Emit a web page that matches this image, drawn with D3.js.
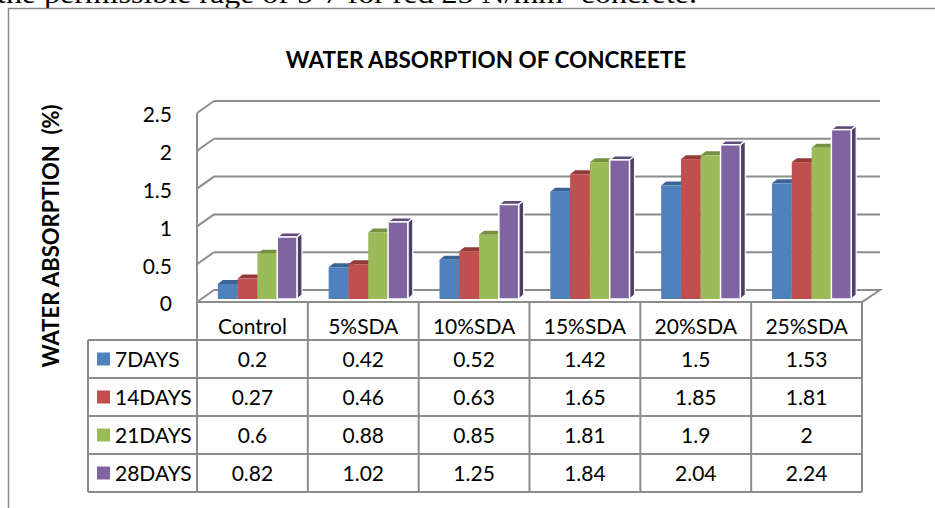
<!DOCTYPE html>
<meta charset="utf-8">
<style type="text/css">
  body { margin: 0; background: #fff; }
  .grid { fill: none; stroke: #8c8c8c; stroke-width: 2; }
  .cell { fill: none; stroke: #8c8c8c; stroke-width: 2; }
  text { font-family: "Lato", "Open Sans", sans-serif; fill: #000; }
</style>
<body>
<div id="chart"></div>
<script src="https://d3js.org/d3.v7.min.js"></script>
<script>

// data
var categories = ["Control", "5%SDA", "10%SDA", "15%SDA", "20%SDA", "25%SDA"];
var series = ["7DAYS", "14DAYS", "21DAYS", "28DAYS"];
var days7  = [0.2, 0.42, 0.52, 1.42, 1.5, 1.53];
var days14 = [0.27, 0.46, 0.63, 1.65, 1.85, 1.81];
var days21 = [0.6, 0.88, 0.85, 1.81, 1.9, 2];
var days28 = [0.82, 1.02, 1.25, 1.84, 2.04, 2.24];
var yTicks = [0, 0.5, 1, 1.5, 2, 2.5];
var tickLabels = ["0", "0.5", "1", "1.5", "2", "2.5"];

var values = [days7, days14, days21, days28];
var front = ["#4f81bd", "#c0504d", "#9bbb59", "#8064a2"];
var topc  = ["#3b6494", "#923b39", "#779140", "#5e4a7c"];
var side  = ["#345987", "#853533", "#6b8339", "#4f3e69"];

var width = 935, height = 508;

var svg = d3.select("#chart").append("svg")
    .attr("width", width)
    .attr("height", height);

// text from the page above, cut off at the top
svg.append("text")
    .attr("x", -3)
    .attr("y", 3)
    .attr("textLength", 700)
    .attr("lengthAdjust", "spacingAndGlyphs")
    .style("font-family", "'Liberation Serif', serif")
    .style("font-size", "27px")
    .text("the permissible rage of 5-7 for red 25 N/mm² concrete.");

// chart frame
svg.append("rect")
    .attr("x", 8.5).attr("y", 8.5)
    .attr("width", 1000).attr("height", 600)
    .attr("fill", "none")
    .attr("stroke", "#8a8a8a")
    .attr("stroke-width", 1.5);

svg.append("text")
    .attr("x", 486)
    .attr("y", 68)
    .attr("text-anchor", "middle")
    .style("font-weight", "bold")
    .style("font-size", "22.5px")
    .text("WATER ABSORPTION OF CONCREETE");

svg.append("text")
    .attr("transform", "translate(59,236) rotate(-90)")
    .attr("text-anchor", "middle")
    .style("font-weight", "bold")
    .style("font-size", "22px")
    .style("white-space", "pre")
    .text("WATER ABSORPTION  (%)");

// scales: front plane of the 3d box
var x = d3.scaleBand().domain(categories).range([197, 862]);
var xs = d3.scaleBand().domain(series).range([0, x.bandwidth()]).paddingOuter(0.8);
var y = d3.scaleLinear().domain([0, 2.5]).range([302, 113]);

var DX = 17, DY = -12;   // depth of the box
var BX = 5, BY = -3;     // bar front offset into the box
var bx = 5, by = -4;     // depth of a bar

// back wall gridlines
svg.append("g").selectAll("line")
    .data(yTicks.slice(1))
  .enter().append("line")
    .attr("class", "grid")
    .attr("x1", x.range()[0] + DX).attr("x2", 880)
    .attr("y1", function(d) { return y(d) + DY; })
    .attr("y2", function(d) { return y(d) + DY; });

// left wall
svg.append("line").attr("class", "grid")
    .attr("x1", 197).attr("x2", 197)
    .attr("y1", y(0)).attr("y2", y(2.5));
svg.append("g").selectAll("line")
    .data(yTicks)
  .enter().append("line")
    .attr("class", "grid")
    .attr("x1", 197).attr("x2", 197 + DX)
    .attr("y1", function(d) { return y(d); })
    .attr("y2", function(d) { return y(d) + DY; });

// floor
svg.append("path").attr("class", "grid")
    .attr("d", "M197," + y(0) + "L862," + y(0) + "L880," + (y(0) + DY) + "L" + (197 + DX) + "," + (y(0) + DY));

// tick labels
svg.append("g").selectAll("text")
    .data(yTicks)
  .enter().append("text")
    .attr("x", 172)
    .attr("y", function(d) { return y(d) + 2; })
    .attr("dy", "0.35em")
    .attr("text-anchor", "end")
    .style("font-size", "21px")
    .text(function(d, i) { return tickLabels[i]; });

// bars
categories.forEach(function(cat, ci) {
  series.forEach(function(s, si) {
    var v = values[si][ci];
    var x0 = x(cat) + xs(s) + BX, w = xs.bandwidth();
    var yT = y(v) + BY, yB = y(0) + BY;
    var g = svg.append("g");
    var st = si === 3 ? "#fff" : "none";
    g.append("polygon")
        .attr("points", [[x0 + w, yT], [x0 + w + bx, yT + by], [x0 + w + bx, yB + by], [x0 + w, yB]].join(" "))
        .attr("fill", side[si]).attr("stroke", st).attr("stroke-width", 1.2);
    g.append("polygon")
        .attr("points", [[x0, yT], [x0 + bx, yT + by], [x0 + w + bx, yT + by], [x0 + w, yT]].join(" "))
        .attr("fill", topc[si]).attr("stroke", st).attr("stroke-width", 1.2);
    g.append("rect")
        .attr("x", x0).attr("y", yT)
        .attr("width", w).attr("height", yB - yT)
        .attr("fill", front[si]).attr("stroke", st).attr("stroke-width", 1.5);
  });
});

// data table
var rowH = 38, top0 = 302, legX = 88;
var rowTop = function(i) { return top0 + i * rowH; };
var table = svg.append("g");

for (var i = 1; i <= 5; i++) {
  table.append("line").attr("class", "cell")
      .attr("x1", legX).attr("x2", 862)
      .attr("y1", rowTop(i)).attr("y2", rowTop(i));
}
table.append("line").attr("class", "cell")
    .attr("x1", legX).attr("x2", legX)
    .attr("y1", rowTop(1)).attr("y2", rowTop(5));
categories.concat(["end"]).forEach(function(c, ci) {
  var xx = 197 + ci * x.bandwidth();
  table.append("line").attr("class", "cell")
      .attr("x1", xx).attr("x2", xx)
      .attr("y1", top0).attr("y2", rowTop(5));
});

table.selectAll("text.head")
    .data(categories)
  .enter().append("text")
    .attr("class", "head")
    .attr("x", function(d) { return x(d) + x.bandwidth() / 2; })
    .attr("y", 334)
    .attr("text-anchor", "middle")
    .style("font-size", "21px")
    .text(function(d) { return d; });

series.forEach(function(s, si) {
  var cy = rowTop(si + 1) + rowH / 2;
  table.append("rect")
      .attr("x", 97).attr("y", cy - 6.5)
      .attr("width", 13).attr("height", 13)
      .attr("fill", front[si]);
  table.append("text")
      .attr("x", 115).attr("y", cy + 7.5)
      .style("font-size", "21px")
      .text(s);
  categories.forEach(function(cat, ci) {
    table.append("text")
        .attr("x", x(cat) + x.bandwidth() / 2)
        .attr("y", cy + 7.5)
        .attr("text-anchor", "middle")
        .style("font-size", "21px")
        .text(values[si][ci]);
  });
});

</script>
</body>
